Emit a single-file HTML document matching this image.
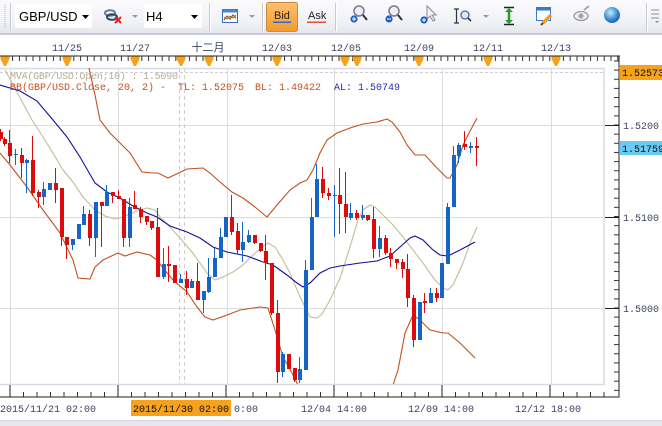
<!DOCTYPE html>
<html><head><meta charset="utf-8"><style>
html,body{margin:0;padding:0;background:#fff;}
svg{display:block}
.m{font-family:"Liberation Mono",monospace;font-size:10px;}
.s{font-family:"Liberation Sans",sans-serif;}
</style></head><body>
<svg width="662" height="426" viewBox="0 0 662 426" xmlns="http://www.w3.org/2000/svg">
<defs>
 <linearGradient id="tb" x1="0" y1="0" x2="0" y2="1"><stop offset="0" stop-color="#fbfbfd"/><stop offset="0.65" stop-color="#f1f2f6"/><stop offset="1" stop-color="#e3e5ec"/></linearGradient>
 <linearGradient id="bid" x1="0" y1="0" x2="0" y2="1"><stop offset="0" stop-color="#ffc070"/><stop offset="1" stop-color="#f49a2c"/></linearGradient>
 <radialGradient id="glb" cx="0.4" cy="0.35" r="0.7"><stop offset="0" stop-color="#cfeaff"/><stop offset="0.6" stop-color="#3a8fd8"/><stop offset="1" stop-color="#1a5aa8"/></radialGradient>
 <pattern id="pt" patternUnits="userSpaceOnUse" x="5.3" y="56" width="6.8" height="10"><rect width="1" height="5" fill="#333"/></pattern>
 <pattern id="pb" patternUnits="userSpaceOnUse" x="9.5" y="392" width="13.5" height="5"><rect width="1" height="5" fill="#333"/></pattern>
 <pattern id="pp" patternUnits="userSpaceOnUse" x="614" y="60.45" width="5" height="9.15"><rect width="5" height="1" fill="#333"/></pattern>
 <clipPath id="plot"><rect x="0" y="68" width="604" height="316"/></clipPath>
</defs>

<rect x="0" y="0" width="662" height="34" fill="url(#tb)"/>
<rect x="0" y="33" width="662" height="2" fill="#c9ccd6"/>
<path d="M5 5v24" stroke="#b0b4c0" stroke-dasharray="1 1"/>
<path d="M10.5 3v28M209.5 3v28M262.5 3v28M335.5 3v28M646.5 3v28" stroke="#c6cad4"/>
<path d="M11.5 3v28M210.5 3v28M263.5 3v28M336.5 3v28M647.5 3v28" stroke="#ffffff"/>
<rect x="15" y="4" width="77" height="24" fill="#fff"/>
<text x="19" y="21" class="s" font-size="13" fill="#000">GBP/USD</text>
<polygon points="82,15 89,15 85.5,19" fill="#000"/>
<ellipse cx="110" cy="13" rx="5" ry="2.8" fill="none" stroke="#6a7a98" stroke-width="2"/>
<ellipse cx="112" cy="17" rx="5" ry="2.8" fill="none" stroke="#34466a" stroke-width="2"/>
<path d="M115 17l6 6M121 17l-6 6" stroke="#e02020" stroke-width="2"/>
<polygon points="132,15 138,15 135,18" fill="#9a9aa2"/>
<rect x="144" y="4" width="58" height="24" fill="#fff"/>
<text x="146" y="21" class="s" font-size="13" fill="#000">H4</text>
<polygon points="191,15 198,15 194.5,19" fill="#000"/>
<rect x="222.5" y="9.5" width="15" height="13" fill="#fff" stroke="#3a6ab8"/>
<rect x="222.5" y="9.5" width="15" height="3" fill="#4a86d6"/>
<polyline points="224,20 227,16 230,19 233,15 236,18" fill="none" stroke="#d03030" stroke-width="1.2"/>
<polyline points="224,17 227,19 230,16 233,18 236,15" fill="none" stroke="#30a030" stroke-width="1"/>
<polygon points="249,15 255,15 252,18" fill="#9a9aa2"/>
<rect x="266.5" y="2.5" width="31" height="29" rx="2" fill="url(#bid)" stroke="#c98a3a"/>
<text x="274" y="19" class="s" font-size="11" fill="#222">Bid</text>
<rect x="273" y="21.5" width="18" height="1.5" fill="#2a6ad8"/>
<text x="308" y="19" class="s" font-size="11" fill="#222">Ask</text>
<rect x="307" y="21.5" width="19" height="1.5" fill="#e8502a"/>
<circle cx="359" cy="11" r="5" fill="#eceef2" stroke="#7a7a8a" stroke-width="1.5"/>
<path d="M363 15l4 5" stroke="#333" stroke-width="2"/>
<circle cx="354" cy="19" r="3.6" fill="#2060c0"/><path d="M352 19h4M354 17v4" stroke="#fff"/>
<circle cx="394" cy="11" r="5" fill="#eceef2" stroke="#7a7a8a" stroke-width="1.5"/>
<path d="M398 15l4 5" stroke="#333" stroke-width="2"/>
<circle cx="389" cy="19" r="3.6" fill="#2060c0"/><path d="M387 19h4" stroke="#fff"/>
<path d="M427 6v13l3-3 3 5 2-1-3-5h4z" fill="#f4f4f6" stroke="#8a8a94"/>
<circle cx="424" cy="20" r="3.6" fill="#2060c0"/><path d="M422 20h4M424 18v4" stroke="#fff"/>
<path d="M454 9h5M456.5 9v14M454 23h5" stroke="#333" stroke-width="1.2"/>
<circle cx="465" cy="15" r="4" fill="#dbe9f6" stroke="#4a6a9a" stroke-width="1.3"/>
<path d="M468 18l3 3" stroke="#333" stroke-width="1.6"/>
<polygon points="483,15 489,15 486,18" fill="#9a9aa2"/>
<path d="M504 7.5h10M504 24.5h10" stroke="#222" stroke-width="1.5"/>
<path d="M509 9v14" stroke="#2a9a2a" stroke-width="2.5"/>
<polygon points="505,12 509,8 513,12" fill="#2a9a2a"/><polygon points="505,20 509,24 513,20" fill="#2a9a2a"/>
<rect x="536.5" y="7.5" width="14" height="13" fill="#fff" stroke="#3a78d0"/>
<rect x="536.5" y="7.5" width="14" height="3" fill="#3a78d0"/>
<path d="M543 23l8-8" stroke="#f0a020" stroke-width="3.5"/>
<path d="M541 25l2-2" stroke="#804010" stroke-width="2"/>
<ellipse cx="581" cy="16" rx="7" ry="4.5" fill="#eee" stroke="#9a9aa2" stroke-width="1.3"/>
<circle cx="581" cy="16" r="2.5" fill="#a0a0a8"/>
<path d="M584 10l5-4" stroke="#9a9aa2" stroke-width="1.5"/>
<circle cx="612" cy="15" r="8" fill="url(#glb)"/>
<path d="M651 10h8M651 14h8M651 18h8" stroke="#8a8e9a"/>
<polygon points="655,21 659,21 657,23" fill="#8a8e9a"/>

<rect x="0" y="35" width="662" height="33" fill="#fff"/>
<g class="m" fill="#3c4262" text-anchor="middle">
<text x="67" y="51">11/25</text><text x="135" y="51">11/27</text>
<text x="208" y="51" style="font-family:'Liberation Sans','Noto Sans CJK SC',sans-serif;font-size:11px">十二月</text>
<text x="277" y="51">12/03</text><text x="346" y="51">12/05</text><text x="419" y="51">12/09</text>
<text x="488" y="51">12/11</text><text x="556" y="51">12/13</text>
</g>
<rect x="0" y="55.5" width="620" height="1" fill="#222"/>
<rect x="0" y="56" width="619" height="5" fill="url(#pt)"/>
<rect x="618.5" y="56" width="1" height="6" fill="#222"/>
<g fill="#f5a21a">
<polygon points="0.5,56.5 9.5,56.5 9.5,59 6,66 4,66 0.5,59"/>
<polygon points="62.5,56.5 71.5,56.5 71.5,59 68,66 66,66 62.5,59"/>
<polygon points="130.5,56.5 139.5,56.5 139.5,59 136,66 134,66 130.5,59"/>
<polygon points="176.5,56.5 185.5,56.5 185.5,59 182,66 180,66 176.5,59"/>
<polygon points="204.5,56.5 213.5,56.5 213.5,59 210,66 208,66 204.5,59"/>
<polygon points="272.5,56.5 281.5,56.5 281.5,59 278,66 276,66 272.5,59"/>
<polygon points="340.5,56.5 349.5,56.5 349.5,59 346,66 344,66 340.5,59"/>
<polygon points="352.5,56.5 361.5,56.5 361.5,59 358,66 356,66 352.5,59"/>
<polygon points="414.5,56.5 423.5,56.5 423.5,59 420,66 418,66 414.5,59"/>
<polygon points="483.5,56.5 492.5,56.5 492.5,59 489,66 487,66 483.5,59"/>
<polygon points="551.5,56.5 560.5,56.5 560.5,59 557,66 555,66 551.5,59"/>
</g>

<g stroke="#dcdcdc" stroke-width="1">
<path d="M10.5 68v316M118.5 68v316M227.5 68v316M334.5 68v316M442.5 68v316M551.5 68v316"/>
<path d="M0 125.5h604M0 217.5h604M0 308.5h604"/>
</g>
<path d="M179.5 68v316M184.5 68v316" stroke="#cfcfcf" stroke-dasharray="4 3"/>
<path d="M0 72.5h604" stroke="#cfcfd4" stroke-dasharray="3 2"/>
<rect x="-2" y="68.5" width="606" height="316" fill="none" stroke="#d6dae4" stroke-width="1.5"/>

<g clip-path="url(#plot)" fill="none" stroke-width="1.1">
<polyline stroke="#c4bc98" points="5,70 17,92 32,120 43,137 53,153 63,170 73,182 83,197 95,210 105,216 115,219 123,217 137,211 147,208 155,210 160,217 170,227 180,238 192,252 200,263 207,273 215,280 223,277 233,272 243,265 253,255 262,247 268,243 275,247 283,260 290,273 297,290 303,303 310,317 317,318 322,314 330,300 340,278 350,247 358,220 363,210 370,205 375,207 383,215 393,225 403,237 413,250 423,263 435,280 443,288 448,290 453,285 463,263 470,243 477,227"/>
<polyline stroke="#10109a" points="0,85 20,91 37,101 53,120 67,137 80,157 95,183 107,192 120,198 133,206 147,213 157,217 170,226 187,232 200,238 213,247 227,252 247,256 263,262 273,265 287,275 297,283 303,287 310,283 320,273 330,268 340,266 360,263 377,261 390,256 400,247 410,238 415,236 423,240 433,250 440,255 448,256 460,250 475,242"/>
<polyline stroke="#c2501c" points="88,62 89,68 95,95 100,120 110,133 120,143 130,153 142,172 153,173 158,173 168,178 187,169 203,168 210,173 220,182 232,192 243,198 255,207 267,217 277,205 290,190 300,183 307,180 313,170 320,153 327,140 337,133 350,128 363,124 377,122 387,119 392,122 400,132 407,145 415,155 425,155 437,168 447,178 450,178 457,165 463,145 468,135 477,118"/>
<polyline stroke="#c2501c" points="0,153 10,165 27,187 43,210 60,233 73,260 78,278 90,279 95,267 103,260 118,253 125,256 137,252 150,255 157,260 163,268 173,280 187,292 197,307 205,317 213,320 227,315 240,310 260,307 268,308 275,330 283,357 292,373 297,383 305,400 350,410 385,400 393,385 398,370 405,333 413,315 420,320 430,330 443,333 448,333 460,343 475,358"/>
</g>

<g clip-path="url(#plot)" shape-rendering="crispEdges">
<g fill="#dc0c0c">
<rect x="0" y="129" width="1" height="12"/><rect x="-1" y="132" width="4" height="7"/>
<rect x="4" y="137" width="1" height="9"/><rect x="3" y="139" width="4" height="5"/>
<rect x="9" y="130" width="1" height="33"/><rect x="8" y="143" width="4" height="13"/>
<rect x="21" y="148" width="1" height="30"/><rect x="20" y="155" width="4" height="8"/>
<rect x="32" y="136" width="1" height="60"/><rect x="31" y="160" width="4" height="33"/>
<rect x="38" y="190" width="1" height="18"/><rect x="37" y="192" width="4" height="5"/>
<rect x="55" y="168" width="1" height="35"/><rect x="54" y="183" width="4" height="7"/>
<rect x="61" y="188" width="1" height="58"/><rect x="60" y="188" width="4" height="49"/>
<rect x="66" y="237" width="1" height="22"/><rect x="65" y="237" width="4" height="8"/>
<rect x="89" y="210" width="1" height="36"/><rect x="88" y="214" width="4" height="24"/>
<rect x="101" y="202" width="1" height="45"/><rect x="100" y="202" width="4" height="4"/>
<rect x="112" y="192" width="1" height="11"/><rect x="111" y="192" width="4" height="4"/>
<rect x="118" y="190" width="1" height="9"/><rect x="117" y="196" width="4" height="3"/>
<rect x="123" y="199" width="1" height="48"/><rect x="122" y="199" width="4" height="39"/>
<rect x="134" y="191" width="1" height="18"/><rect x="133" y="205" width="4" height="4"/>
<rect x="140" y="207" width="1" height="16"/><rect x="139" y="209" width="4" height="8"/>
<rect x="146" y="216" width="1" height="9"/><rect x="145" y="216" width="4" height="6"/>
<rect x="151" y="221" width="1" height="9"/><rect x="150" y="221" width="4" height="7"/>
<rect x="157" y="208" width="1" height="69"/><rect x="156" y="227" width="4" height="50"/>
<rect x="168" y="246" width="1" height="36"/><rect x="167" y="264" width="4" height="2"/>
<rect x="174" y="265" width="1" height="18"/><rect x="173" y="265" width="4" height="18"/>
<rect x="186" y="271" width="1" height="24"/><rect x="185" y="279" width="4" height="9"/>
<rect x="197" y="263" width="1" height="37"/><rect x="196" y="281" width="4" height="19"/>
<rect x="231" y="195" width="1" height="40"/><rect x="230" y="217" width="4" height="15"/>
<rect x="237" y="223" width="1" height="31"/><rect x="236" y="231" width="4" height="19"/>
<rect x="254" y="235" width="1" height="9"/><rect x="253" y="235" width="4" height="8"/>
<rect x="260" y="243" width="1" height="9"/><rect x="259" y="243" width="4" height="8"/>
<rect x="265" y="235" width="1" height="45"/><rect x="264" y="251" width="4" height="12"/>
<rect x="271" y="263" width="1" height="52"/><rect x="270" y="263" width="4" height="50"/>
<rect x="277" y="300" width="1" height="83"/><rect x="276" y="313" width="4" height="59"/>
<rect x="288" y="354" width="1" height="15"/><rect x="287" y="354" width="4" height="15"/>
<rect x="294" y="368" width="1" height="14"/><rect x="293" y="368" width="4" height="12"/>
<rect x="322" y="167" width="1" height="31"/><rect x="321" y="179" width="4" height="14"/>
<rect x="328" y="188" width="1" height="12"/><rect x="327" y="193" width="4" height="3"/>
<rect x="339" y="168" width="1" height="66"/><rect x="338" y="195" width="4" height="9"/>
<rect x="345" y="172" width="1" height="61"/><rect x="344" y="204" width="4" height="13"/>
<rect x="356" y="210" width="1" height="10"/><rect x="355" y="213" width="4" height="5"/>
<rect x="367" y="215" width="1" height="6"/><rect x="366" y="215" width="4" height="5"/>
<rect x="373" y="207" width="1" height="51"/><rect x="372" y="219" width="4" height="30"/>
<rect x="385" y="235" width="1" height="20"/><rect x="384" y="238" width="4" height="15"/>
<rect x="390" y="248" width="1" height="19"/><rect x="389" y="253" width="4" height="6"/>
<rect x="396" y="259" width="1" height="10"/><rect x="395" y="259" width="4" height="4"/>
<rect x="402" y="259" width="1" height="19"/><rect x="401" y="262" width="4" height="7"/>
<rect x="407" y="254" width="1" height="53"/><rect x="406" y="269" width="4" height="29"/>
<rect x="413" y="295" width="1" height="52"/><rect x="412" y="298" width="4" height="42"/>
<rect x="424" y="293" width="1" height="20"/><rect x="423" y="301" width="4" height="2"/>
<rect x="436" y="288" width="1" height="14"/><rect x="435" y="293" width="4" height="5"/>
<rect x="464" y="131" width="1" height="19"/><rect x="463" y="144" width="4" height="3"/>
<rect x="476" y="137" width="1" height="29"/><rect x="475" y="146" width="4" height="2"/>
</g>
<g fill="#1664c4">
<rect x="15" y="149" width="1" height="16"/><rect x="14" y="154" width="4" height="1"/>
<rect x="26" y="159" width="1" height="34"/><rect x="25" y="160" width="4" height="3"/>
<rect x="43" y="182" width="1" height="23"/><rect x="42" y="189" width="4" height="8"/>
<rect x="48" y="183" width="4" height="7"/>
<rect x="72" y="239" width="1" height="11"/><rect x="71" y="239" width="4" height="6"/>
<rect x="77" y="224" width="4" height="15"/>
<rect x="83" y="206" width="1" height="19"/><rect x="82" y="214" width="4" height="11"/>
<rect x="95" y="202" width="1" height="55"/><rect x="94" y="202" width="4" height="36"/>
<rect x="106" y="185" width="1" height="21"/><rect x="105" y="192" width="4" height="14"/>
<rect x="129" y="198" width="1" height="49"/><rect x="128" y="207" width="4" height="31"/>
<rect x="163" y="248" width="1" height="31"/><rect x="162" y="264" width="4" height="13"/>
<rect x="180" y="274" width="1" height="9"/><rect x="179" y="279" width="4" height="4"/>
<rect x="191" y="279" width="1" height="9"/><rect x="190" y="281" width="4" height="7"/>
<rect x="203" y="291" width="1" height="22"/><rect x="202" y="291" width="4" height="9"/>
<rect x="208" y="258" width="1" height="35"/><rect x="207" y="277" width="4" height="15"/>
<rect x="214" y="248" width="1" height="29"/><rect x="213" y="258" width="4" height="19"/>
<rect x="220" y="228" width="1" height="30"/><rect x="219" y="237" width="4" height="21"/>
<rect x="224" y="217" width="4" height="20"/>
<rect x="242" y="222" width="1" height="40"/><rect x="241" y="242" width="4" height="8"/>
<rect x="248" y="230" width="1" height="13"/><rect x="247" y="235" width="4" height="7"/>
<rect x="282" y="352" width="1" height="25"/><rect x="281" y="354" width="4" height="18"/>
<rect x="299" y="357" width="1" height="26"/><rect x="298" y="369" width="4" height="11"/>
<rect x="305" y="260" width="1" height="110"/><rect x="304" y="270" width="4" height="100"/>
<rect x="311" y="198" width="1" height="72"/><rect x="310" y="217" width="4" height="53"/>
<rect x="316" y="164" width="1" height="53"/><rect x="315" y="179" width="4" height="38"/>
<rect x="334" y="185" width="1" height="52"/><rect x="333" y="195" width="4" height="1"/>
<rect x="350" y="203" width="1" height="17"/><rect x="349" y="213" width="4" height="5"/>
<rect x="362" y="205" width="1" height="15"/><rect x="361" y="215" width="4" height="3"/>
<rect x="379" y="226" width="1" height="31"/><rect x="378" y="238" width="4" height="11"/>
<rect x="418" y="302" width="4" height="38"/>
<rect x="430" y="288" width="1" height="15"/><rect x="429" y="293" width="4" height="10"/>
<rect x="440" y="263" width="4" height="35"/>
<rect x="447" y="203" width="1" height="61"/><rect x="446" y="207" width="4" height="57"/>
<rect x="453" y="146" width="1" height="61"/><rect x="452" y="155" width="4" height="52"/>
<rect x="458" y="143" width="1" height="20"/><rect x="457" y="145" width="4" height="11"/>
<rect x="470" y="142" width="1" height="11"/><rect x="469" y="146" width="4" height="2"/>
</g>
</g>

<text x="10" y="79" class="m" fill="#b4ae94" textLength="168" lengthAdjust="spacing">MVA(GBP/USD:Open;10) : 1.5090</text>
<g class="m" fill="#c2501e">
<text x="10" y="90">BB(GBP/USD.Close, 20, 2) -</text>
<text x="178" y="90">TL: 1.52075</text>
<text x="255" y="90">BL: 1.49422</text>
</g>
<text x="334" y="90" class="m" fill="#2a2ab8">AL: 1.50749</text>

<rect x="618.5" y="56" width="1" height="341.5" fill="#222"/>
<rect x="614" y="60" width="5" height="334" fill="url(#pp)"/>
<rect x="605" y="125" width="14" height="1" fill="#222"/>
<rect x="605" y="217" width="14" height="1" fill="#222"/>
<rect x="605" y="308" width="14" height="1" fill="#222"/>
<g class="m" fill="#3c4262">
<text x="623" y="129">1.5200</text>
<text x="623" y="221">1.5100</text>
<text x="623" y="312">1.5000</text>
</g>
<rect x="620" y="65" width="42" height="15" fill="#f6a21c"/>
<polygon points="618,68 621,66 621,70" fill="#f6a21c"/>
<text x="622" y="76" class="m" fill="#111">1.52573</text>
<rect x="620" y="141" width="42" height="14" fill="#6acbf2"/>
<text x="622" y="152" class="m" fill="#111">1.51759</text>

<rect x="0" y="396.5" width="619.5" height="1" fill="#222"/>
<rect x="0" y="392" width="605" height="5" fill="url(#pb)"/>
<g fill="#222">
<rect x="9.5" y="385" width="1" height="12"/><rect x="117.5" y="385" width="1" height="12"/>
<rect x="225.5" y="385" width="1" height="12"/><rect x="333.5" y="385" width="1" height="12"/>
<rect x="441.5" y="385" width="1" height="12"/><rect x="549.5" y="385" width="1" height="12"/>
</g>
<g class="m" fill="#3c4262">
<text x="0" y="412">2015/11/21 02:00</text>
<text x="234" y="412">0:00</text>
<text x="334" y="412" text-anchor="middle">12/04 14:00</text>
<text x="441" y="412" text-anchor="middle">12/09 14:00</text>
<text x="548" y="412" text-anchor="middle">12/12 18:00</text>
</g>
<rect x="131" y="400" width="100" height="16" fill="#f6a21c"/>
<text x="133" y="412" class="m" fill="#111">2015/11/30 02:00</text>
<rect x="0" y="420" width="662" height="6" fill="#e6e6ee"/>
<rect x="0" y="420" width="662" height="1" fill="#d4d4de"/>
</svg>
</body></html>
